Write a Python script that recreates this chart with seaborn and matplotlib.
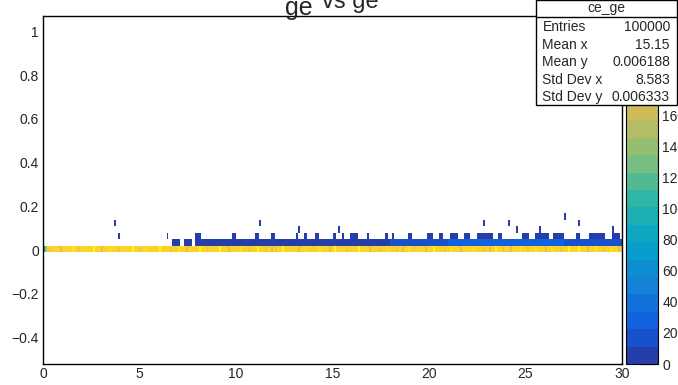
import numpy as np
import matplotlib
matplotlib.use("Agg")
import matplotlib.pyplot as plt
from matplotlib.colors import ListedColormap
from matplotlib.patches import Rectangle
from matplotlib.lines import Line2D
from matplotlib.ticker import MultipleLocator, FuncFormatter
import seaborn as sns

sns.set_style("white")
plt.rcParams['font.family'] = ['Liberation Sans', 'DejaVu Sans']

# ------------------------------------------------------------------ data
X_RANGE = (0.0, 30.0)
N_XBINS = 300
Y_RANGE = (-0.52, 1.07)
N_YBINS = 53
Z_MAX = 224

# bottom row (y ~ 0): base count and the bins that differ from it
ROW0_Y = 0.005
ROW0_BASE = 192
ROW0_X = [0.05, 0.15, 0.35, 0.95, 1.55, 1.85, 2.65, 3.05, 3.45, 3.95, 4.65, 5.05,
          5.35, 6.05, 6.65, 7.05, 7.45, 8.15, 8.55, 9.15, 9.65, 10.25, 10.65, 11.15,
          11.55, 11.85, 12.05, 12.45, 13.25, 13.65, 14.05, 14.35, 14.85, 15.15, 15.75,
          16.35, 16.95, 17.45, 17.85, 18.35, 18.65, 18.95, 19.25, 19.85, 20.25, 20.85,
          21.15, 21.65, 22.35, 22.85, 23.15, 23.45, 23.85, 24.25, 24.75, 25.15, 25.55,
          26.05, 26.35, 26.85, 27.25, 27.75, 28.25, 28.65, 29.05, 29.45, 29.85]
ROW0_N = [75, 140, 185, 176, 207, 185, 218, 176, 207, 185, 218, 176,
          207, 218, 185, 207, 176, 218, 185, 218, 176, 207, 185, 218,
          185, 176, 185, 218, 176, 207, 185, 207, 176, 218, 185,
          218, 176, 185, 207, 185, 176, 207, 185, 176, 218, 185,
          207, 176, 207, 185, 176, 218, 185, 176, 207, 185, 207,
          176, 207, 185, 218, 218, 176, 207, 185, 207, 176]

# second row (y ~ 0.035): segments (x_start, x_end, count)
ROW1_Y = 0.035
ROW1_SEG = [(6.7, 7.1, 4), (7.3, 7.7, 4), (7.9, 15.0, 5), (15.0, 18.0, 8),
            (18.0, 21.0, 14), (21.0, 27.0, 27), (27.0, 30.0, 20)]

# third row (y ~ 0.065): segments (x_start, x_end, count)
ROW2_Y = 0.065
ROW2_SEG = [(7.95, 8.2, 3), (9.85, 10.05, 3), (11.04, 11.24, 3), (11.76, 11.97, 3),
            (13.06, 13.21, 3), (13.52, 13.73, 3), (14.15, 14.35, 3), (15.03, 15.23, 3),
            (15.49, 15.65, 3), (15.9, 16.27, 3), (16.79, 16.94, 3), (17.72, 17.88, 3),
            (18.08, 18.24, 3), (18.91, 19.12, 3), (19.9, 20.16, 3), (20.47, 20.67, 3),
            (21.09, 21.5, 3), (21.76, 22.12, 3), (22.49, 23.26, 3), (23.58, 23.83, 3),
            (24.82, 25.23, 3), (25.49, 26.17, 3), (26.37, 27.05, 3), (27.56, 27.82, 3),
            (28.29, 29.12, 3), (29.48, 29.9, 3)]

# isolated cells
SPOT_X = [3.75, 3.95, 6.45, 11.25, 13.25, 15.35, 22.85, 24.15, 24.55, 25.75, 27.05, 27.75, 29.55]
SPOT_Y = [0.125, 0.065, 0.065, 0.125, 0.095, 0.095, 0.125, 0.125, 0.095, 0.095, 0.155, 0.125, 0.095]
SPOT_N = [1, 1, 1, 1, 1, 1, 1, 1, 1, 1, 1, 1, 1]

STATS_NAME = "ce_ge"
STATS_LABELS = ["Entries", "Mean x", "Mean y", "Std Dev x", "Std Dev y"]
STATS_VALUES = ["100000", "15.15", "0.006188", "8.583", "0.006333"]

# ------------------------------------------------------------------ build cells
x_edges = np.linspace(X_RANGE[0], X_RANGE[1], N_XBINS + 1)
y_edges = np.linspace(Y_RANGE[0], Y_RANGE[1], N_YBINS + 1)
x_centers = 0.5 * (x_edges[:-1] + x_edges[1:])

xs, ys, ws = [], [], []
row0 = {round(x, 2): n for x, n in zip(ROW0_X, ROW0_N)}
for xc in x_centers:
    xs.append(xc); ys.append(ROW0_Y); ws.append(row0.get(round(xc, 2), ROW0_BASE))
for yv, segs in [(ROW1_Y, ROW1_SEG), (ROW2_Y, ROW2_SEG)]:
    for a, b, n in segs:
        for xc in x_centers[(x_centers >= a) & (x_centers < b)]:
            xs.append(xc); ys.append(yv); ws.append(n)
xs += SPOT_X; ys += SPOT_Y; ws += SPOT_N

# ROOT kBird palette, 20 contour levels
stops = [0, .125, .25, .375, .5, .625, .75, .875, 1]
red = [0.2082, 0.0592, 0.0780, 0.0232, 0.1802, 0.5301, 0.8186, 0.9956, 0.9764]
green = [0.1664, 0.3599, 0.5041, 0.6419, 0.7178, 0.7492, 0.7328, 0.7862, 0.9832]
blue = [0.5293, 0.8684, 0.8385, 0.7914, 0.6425, 0.4662, 0.3499, 0.1968, 0.0539]
fr = [(i + 0.99) / 20 for i in range(20)]
cols = [(np.interp(f, stops, red), np.interp(f, stops, green), np.interp(f, stops, blue)) for f in fr]
cmap = ListedColormap(cols)

# ------------------------------------------------------------------ figure
W, H = 678, 385
fig = plt.figure(figsize=(W / 100, H / 100), dpi=100)
ax = fig.add_axes([43 / W, 1 - 364 / H, 579 / W, 348 / H])
cax = fig.add_axes([626 / W, 1 - 364 / H, 32 / W, 348 / H])

sns.histplot(x=xs, y=ys, weights=ws, bins=[x_edges, y_edges], cmap=cmap,
             vmin=0, vmax=Z_MAX, cbar=True, cbar_ax=cax, ax=ax)

ax.set_xlim(*X_RANGE)
ax.set_ylim(*Y_RANGE)
ax.set_xlabel("")
ax.set_ylabel("")
ax.set_xticks(np.arange(0, 31, 5))
ax.xaxis.set_minor_locator(MultipleLocator(1))
ax.set_yticks([-0.4, -0.2, 0, 0.2, 0.4, 0.6, 0.8, 1.0])
ax.yaxis.set_minor_locator(MultipleLocator(0.05))
fmt = FuncFormatter(lambda v, p: ("%g" % round(v, 2)).replace("-", "\u2212"))
ax.yaxis.set_major_formatter(fmt)
ax.tick_params(axis="x", which="major", direction="in", length=8, width=0.8,
               labelsize=10, pad=2, top=False)
ax.tick_params(axis="x", which="minor", direction="in", length=4.5, width=0.8, top=False)
ax.tick_params(axis="y", which="major", direction="in", length=11.5, width=0.8,
               labelsize=10, pad=3, right=False)
ax.tick_params(axis="y", which="minor", direction="in", length=5.8, width=0.8, right=False)
for s in ax.spines.values():
    s.set_color("black"); s.set_linewidth(1.0)

cb = ax.collections[0].colorbar
cb.set_ticks(np.arange(0, 161, 20))
cax.tick_params(direction="in", length=13, width=0.8, labelsize=10, pad=3, color="black")
cb.outline.set_linewidth(0.8)
cb.outline.set_edgecolor("black")

# title (partly outside of the canvas, as in the reference)
fig.text(285 / W, 1 - 15 / H, "ge", fontsize=18, ha="left", va="baseline")
fig.text(322 / W, 1 - 8 / H, "vs ge", fontsize=17, ha="left", va="baseline")

# statistics box
fig.patches.append(Rectangle((535.5 / W, 1 - 105 / H), (677 - 535.5) / W, 105 / H,
                             transform=fig.transFigure, facecolor="white",
                             edgecolor="black", linewidth=1.0, zorder=5))
fig.lines.append(Line2D([535.5 / W, 677 / W], [1 - 16.7 / H, 1 - 16.7 / H],
                        transform=fig.transFigure, color="black", linewidth=1.0, zorder=6))
fig.text(606 / W, 1 - 8 / H, STATS_NAME, fontsize=10, ha="center", va="center", zorder=7)
row_y = [27, 45, 62, 80, 97]
for lab, val, yy in zip(STATS_LABELS, STATS_VALUES, row_y):
    fig.text(542.5 / W, 1 - yy / H, lab, fontsize=10, ha="left", va="center", zorder=7)
    fig.text(670 / W, 1 - yy / H, val, fontsize=10, ha="right", va="center", zorder=7)

fig.savefig("out.png", dpi=100)
